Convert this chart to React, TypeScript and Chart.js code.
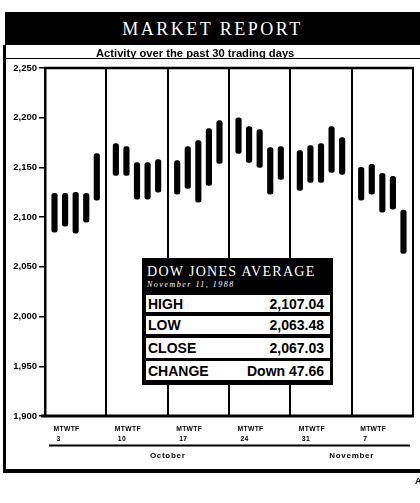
import React, { useEffect, useRef } from 'react';
import { Chart, registerables } from 'chart.js';

Chart.register(...registerables);

// ---- data ----
const HIGHS = [2124, 2124, 2125, 2124, 2164, 2174, 2171, 2155, 2155, 2158, 2157, 2171, 2177, 2189, 2197, 2200, 2191, 2188, 2170, 2171, 2167, 2172, 2174, 2191, 2180, 2150, 2153, 2144, 2141, 2107.04];
const LOWS = [2085, 2091, 2084, 2095, 2117, 2142, 2142, 2118, 2118, 2125, 2123, 2129, 2115, 2132, 2154, 2164, 2155, 2150, 2123, 2138, 2127, 2135, 2135, 2145, 2143, 2117, 2123, 2105, 2108, 2063.48];
const WEEK_DATES = ['3', '10', '17', '24', '31', '7'];
const DAY_LETTERS = ['M', 'T', 'W', 'T', 'F'];
const MONTH_LABELS = ['October', 'November'];
const MONTH_WEEK_POS = [2, 5];
const Y_MIN = 1900;
const Y_MAX = 2250;
const Y_STEP = 50;
const TITLE = 'MARKET REPORT';
const SUBTITLE = 'Activity over the past 30 trading days';
const BOX_TITLE = 'DOW JONES AVERAGE';
const BOX_DATE = 'November 11, 1988';
const BOX_LABELS = ['HIGH', 'LOW', 'CLOSE', 'CHANGE'];
const BOX_VALUES = ['2,107.04', '2,063.48', '2,067.03', 'Down 47.66'];

const WEEK_UNITS = 5.8;
const DAY_OFFSET = 0.9;
const dayPos = (i: number) => Math.floor(i / 5) * WEEK_UNITS + DAY_OFFSET + (i % 5);

const SANS = '"Liberation Sans", Arial, sans-serif';
const SERIF = '"Liberation Serif", "Times New Roman", serif';

const framePlugin = {
  id: 'frame',
  afterDraw(chart: any) {
    const { ctx, chartArea: a, scales } = chart;
    const x = scales.x;
    const line = (x1: number, y1: number, x2: number, y2: number) => {
      ctx.beginPath();
      ctx.moveTo(x1, y1);
      ctx.lineTo(x2, y2);
      ctx.stroke();
    };
    ctx.save();
    ctx.strokeStyle = '#000';
    ctx.fillStyle = '#000';
    ctx.lineWidth = 2;
    for (let w = 1; w < WEEK_DATES.length; w++) {
      const px = Math.round(x.getPixelForValue(w * WEEK_UNITS));
      line(px, a.top, px, a.bottom);
    }
    ctx.lineWidth = 2.5;
    line(a.left - 1, a.top, a.right + 1, a.top);
    ctx.lineWidth = 2;
    line(a.right, a.top, a.right, a.bottom);
    ctx.lineWidth = 3;
    line(a.left - 4, a.bottom, a.right + 1, a.bottom);

    ctx.textAlign = 'left';
    ctx.textBaseline = 'alphabetic';
    WEEK_DATES.forEach((d, w) => {
      const start = x.getPixelForValue(w * WEEK_UNITS + DAY_OFFSET) - 1;
      ctx.font = `bold 6.8px ${SANS}`;
      try { (ctx as any).letterSpacing = '0.3px'; } catch (e) {}
      ctx.fillText(DAY_LETTERS.join(''), start, a.bottom + 15);
      ctx.fillText(d, start + 3, a.bottom + 25);
    });
    ctx.lineWidth = 2;
    line(a.left + 4, a.bottom + 29.5, a.right - 3, a.bottom + 29.5);
    ctx.font = `bold 8px ${SANS}`;
    try { (ctx as any).letterSpacing = '0.7px'; } catch (e) {}
    ctx.textAlign = 'center';
    MONTH_LABELS.forEach((m, i) => {
      ctx.fillText(m, x.getPixelForValue(MONTH_WEEK_POS[i] * WEEK_UNITS), a.bottom + 42);
    });
    try { (ctx as any).letterSpacing = '0px'; } catch (e) {}
    ctx.restore();
  },
};

function PriceChart() {
  const ref = useRef<HTMLCanvasElement | null>(null);
  useEffect(() => {
    if (!ref.current) return;
    const data = HIGHS.map((h, i) => ({ x: dayPos(i), y: [LOWS[i], h] }));
    const chart = new Chart(ref.current, {
      type: 'bar',
      data: {
        datasets: [
          {
            data: data as any,
            backgroundColor: '#000',
            borderWidth: 0,
            barThickness: 5.5,
            borderRadius: 2.5,
            borderSkipped: false,
          },
        ],
      },
      options: {
        responsive: false,
        animation: false,
        layout: { padding: { top: 68, bottom: 87, left: 0, right: 7 } },
        plugins: { legend: { display: false }, tooltip: { enabled: false } },
        scales: {
          x: {
            type: 'linear',
            display: false,
            offset: false,
            min: 0,
            max: WEEK_UNITS * WEEK_DATES.length,
          },
          y: {
            min: Y_MIN,
            max: Y_MAX,
            afterFit: (s: any) => {
              s.width = 45;
            },
            border: { display: true, color: '#000', width: 2.5 },
            grid: { drawOnChartArea: false, drawTicks: true, tickLength: 6, color: '#000', lineWidth: 1.5 },
            ticks: {
              stepSize: Y_STEP,
              color: '#000',
              padding: 2,
              font: { family: SANS, size: 9.5, weight: 'bold' },
              callback: (v: any) => Number(v).toLocaleString('en-US'),
            },
          },
        },
      },
      plugins: [framePlugin],
    });
    return () => chart.destroy();
  }, []);
  return <canvas ref={ref} width={420} height={503} style={{ position: 'absolute', left: 0, top: 0 }} />;
}

export default function App() {
  const rowTops = [37, 58, 80, 103];
  const rowHeights = [17, 18, 20, 19];
  return (
    <div style={{ position: 'absolute', left: 0, top: 0, width: 420, height: 503, background: '#fff', overflow: 'hidden' }}>
      <PriceChart />
      {/* title bar */}
      <div
        style={{
          position: 'absolute', left: 5, top: 12, width: 415, height: 33, background: '#000', color: '#fff',
          fontFamily: SERIF, fontSize: 18, letterSpacing: 2.5, lineHeight: '34px', textAlign: 'center',
        }}
      >
        {TITLE}
      </div>
      {/* subtitle */}
      <div style={{ position: 'absolute', left: 5, top: 57.5, width: 415, height: 1.5, background: '#000' }} />
      <div
        style={{
          position: 'absolute', left: 96, top: 47.5, fontFamily: SANS, fontWeight: 'bold', fontSize: 11.2,
          lineHeight: '11px', whiteSpace: 'nowrap', color: '#000',
        }}
      >
        {SUBTITLE}
      </div>
      {/* outer frame */}
      <div style={{ position: 'absolute', left: 3, top: 45, width: 2.5, height: 427, background: '#000' }} />
      <div style={{ position: 'absolute', left: 3, top: 469, width: 417, height: 3.5, background: '#000' }} />
      <div style={{ position: 'absolute', left: 415, top: 476, fontFamily: SANS, fontWeight: 'bold', fontSize: 9 }}>A</div>
      {/* data box */}
      <div style={{ position: 'absolute', left: 142, top: 258, width: 191, height: 127, background: '#000' }}>
        <div
          style={{
            position: 'absolute', left: 5, top: 7, color: '#fff', fontFamily: SERIF, fontSize: 14,
            letterSpacing: 1.3, lineHeight: '14px', whiteSpace: 'nowrap',
          }}
        >
          {BOX_TITLE}
        </div>
        <div
          style={{
            position: 'absolute', left: 5, top: 22, color: '#fff', fontFamily: SERIF, fontSize: 8,
            letterSpacing: 1.5, lineHeight: '9px', whiteSpace: 'nowrap', fontStyle: 'italic',
          }}
        >
          {BOX_DATE}
        </div>
        {BOX_LABELS.map((lab, i) => (
          <div
            key={lab}
            style={{
              position: 'absolute', left: 4, top: rowTops[i], width: 184, height: rowHeights[i], background: '#fff',
              fontFamily: SANS, fontWeight: 'bold', fontSize: 14, lineHeight: `${rowHeights[i] + 1}px`, color: '#000',
            }}
          >
            <span style={{ position: 'absolute', left: 2, top: 0 }}>{lab}</span>
            <span style={{ position: 'absolute', right: 6, top: 0 }}>{BOX_VALUES[i]}</span>
          </div>
        ))}
      </div>
    </div>
  );
}
